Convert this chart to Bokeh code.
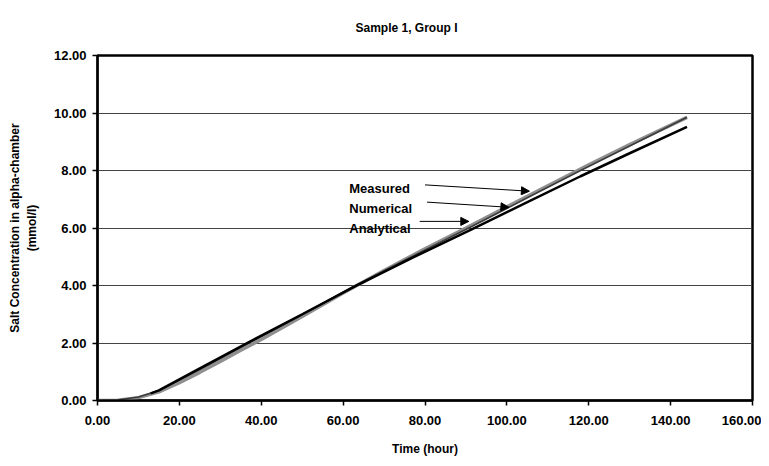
from bokeh.plotting import figure
from bokeh.models import (Range1d, NumeralTickFormatter, FixedTicker, Label, Arrow,
                          NormalHead, Title)
from bokeh.embed import file_html
from bokeh.resources import INLINE

# ---- data ----
measured_hours = [0, 5, 10, 15, 20, 25, 30, 35, 40, 50, 60, 70, 80, 90, 100, 110, 120, 130, 144]
measured_conc = [0.0, 0.01, 0.1, 0.3, 0.62, 0.98, 1.36, 1.75, 2.12, 2.92, 3.74, 4.52, 5.28,
                 6.0, 6.74, 7.47, 8.2, 8.9, 9.85]

numerical_hours = [0, 5, 10, 15, 25, 37, 50, 63, 77, 91.4, 105, 118, 130, 144]
numerical_conc = [0.0, 0.02, 0.12, 0.35, 1.08, 2.0, 2.98, 4.0, 5.02, 6.05, 7.05, 8.0, 8.85, 9.85]

analytical_hours = [13, 15, 25, 37, 50, 63, 77, 91.4, 105, 118, 130, 144]
analytical_conc = [0.25, 0.35, 1.12, 2.03, 3.0, 3.98, 4.97, 5.95, 6.9, 7.8, 8.6, 9.52]

series_names = ["Measured", "Numerical", "Analytical"]
x_ticks = [0, 20, 40, 60, 80, 100, 120, 140, 160]
y_ticks = [0, 2, 4, 6, 8, 10, 12]
title_text = "Sample 1, Group I"

FONT = "Liberation Sans"

p = figure(width=761, height=458, output_backend="svg", toolbar_location=None,
           x_range=Range1d(0, 160), y_range=Range1d(0, 12),
           min_border_left=97, min_border_right=9, min_border_top=55, min_border_bottom=58)

p.title = Title(text=title_text, align="left", offset=258, text_font=FONT,
                text_font_size="12px", text_font_style="bold", text_color="black",
                vertical_align="top", standoff=38)

p.line(measured_hours, measured_conc, line_color="#8f8f8f", line_width=3.5)
p.line(numerical_hours, numerical_conc, line_color="#3c3c3c", line_width=1.6)
p.line(analytical_hours, analytical_conc, line_color="black", line_width=2.5)

# axes
for ax in (p.xaxis[0], p.yaxis[0]):
    ax.formatter = NumeralTickFormatter(format="0.00")
    ax.major_label_text_font = FONT
    ax.major_label_text_font_size = "13px"
    ax.major_label_text_font_style = "bold"
    ax.major_label_text_color = "black"
    ax.axis_line_width = 2
    ax.axis_line_color = "black"
    ax.major_tick_line_color = "black"
    ax.major_tick_line_width = 1.5
    ax.major_tick_out = 5
    ax.major_tick_in = 0
    ax.minor_tick_line_color = None
    ax.axis_label_text_font = FONT
    ax.axis_label_text_font_size = "12px"
    ax.axis_label_text_font_style = "bold"
    ax.axis_label_text_color = "black"

p.xaxis[0].ticker = FixedTicker(ticks=x_ticks)
p.yaxis[0].ticker = FixedTicker(ticks=y_ticks)
p.xaxis[0].axis_label = "Time (hour)"
p.xaxis[0].major_label_standoff = 10
p.xaxis[0].axis_label_standoff = 14
p.yaxis[0].axis_label = "Salt Concentration in alpha-chamber\n(mmol/l)"
p.yaxis[0].major_label_standoff = 6
p.yaxis[0].axis_label_standoff = 12

p.xgrid.grid_line_color = None
p.ygrid.grid_line_color = "#444444"
p.ygrid.grid_line_width = 1

p.outline_line_color = "black"
p.outline_line_width = 2.5
p.background_fill_color = "white"
p.border_fill_color = "white"

# annotations
label_pos = [(61.5, 7.37), (61.5, 6.68), (61.5, 5.98)]
arrows = [((80.0, 7.5), (105.5, 7.28)),
          ((80.5, 6.9), (100.5, 6.72)),
          ((78.7, 6.23), (90.7, 6.23))]
for name, (lx, ly) in zip(series_names, label_pos):
    p.add_layout(Label(x=lx, y=ly, text=name, text_font=FONT, text_font_size="13px",
                       text_font_style="bold", text_baseline="middle", text_align="left",
                       text_color="black"))
for (x0, y0), (x1, y1) in arrows:
    p.add_layout(Arrow(x_start=x0, y_start=y0, x_end=x1, y_end=y1, line_width=1,
                       line_color="black",
                       end=NormalHead(size=8, fill_color="black", line_color="black")))

open("out.html", "w").write(file_html(p, INLINE))
